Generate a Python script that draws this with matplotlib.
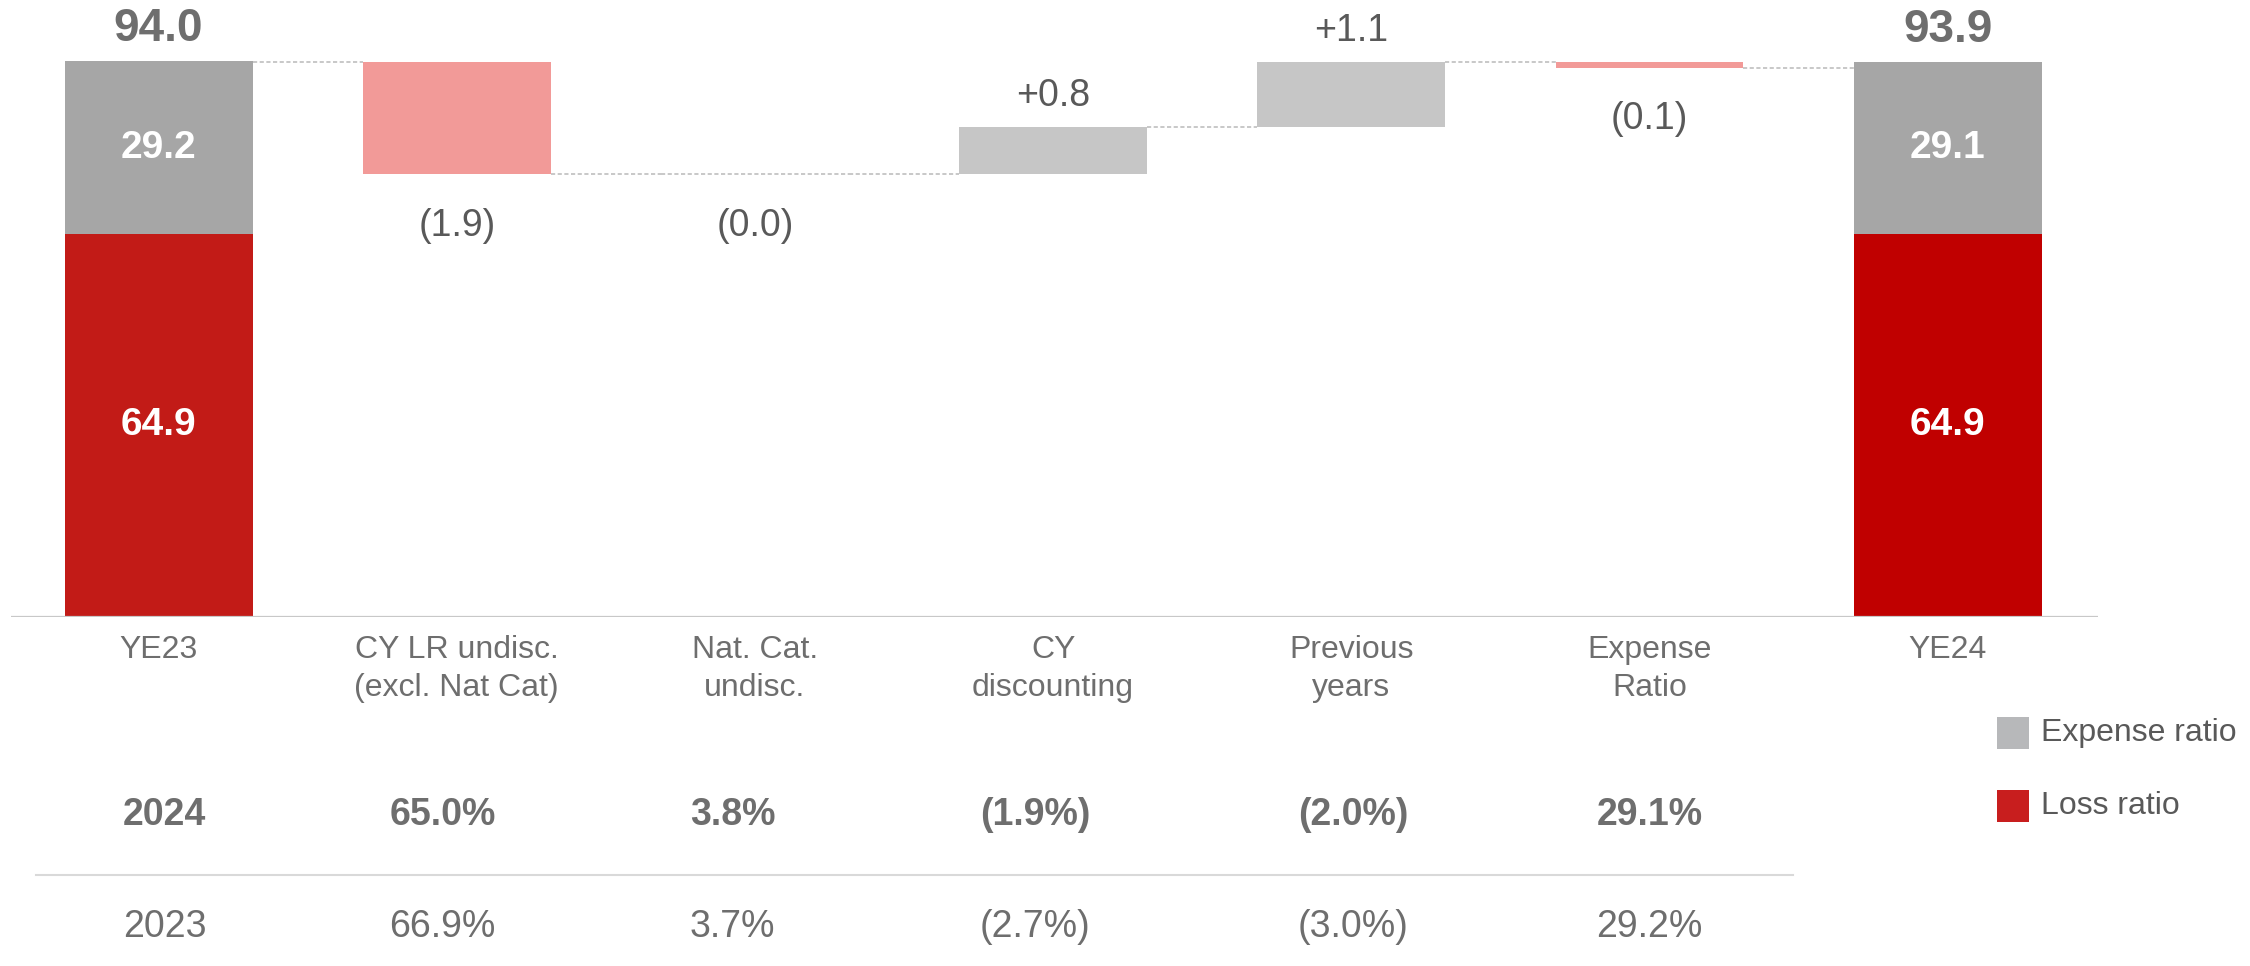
import matplotlib
matplotlib.use("Agg")
import matplotlib.pyplot as plt
from matplotlib import transforms
from matplotlib.patches import Rectangle

plt.rcParams['font.family'] = ['Liberation Sans', 'DejaVu Sans']
NARROW = ['Liberation Sans Narrow', 'Liberation Sans', 'DejaVu Sans']

# data
categories = ["YE23", "CY LR undisc.\n(excl. Nat Cat)", "Nat. Cat.\nundisc.", "CY\ndiscounting",
              "Previous\nyears", "Expense\nRatio", "YE24"]
start_loss, start_exp, start_total = 64.9, 29.2, 94.0
end_loss, end_exp, end_total = 64.9, 29.1, 93.9
deltas = [-1.9, 0.0, 0.8, 1.1, -0.1]
delta_labels = ["(1.9)", "(0.0)", "+0.8", "+1.1", "(0.1)"]
row_years = ["2024", "2023"]
row_2024 = ["65.0%", "3.8%", "(1.9%)", "(2.0%)", "29.1%"]
row_2023 = ["66.9%", "3.7%", "(2.7%)", "(3.0%)", "29.2%"]
legend_labels = ["Expense ratio", "Loss ratio"]

# the bridge steps are drawn on a stretched scale (as in the original slide)
BREAK = 10
W = 0.63
# small horizontal nudges of the table columns relative to the bars
col_shift = [0.02, -0.048, -0.075, -0.06, 0.007, 0.0]

red_23 = '#C21B17'
red_24 = '#C00000'
gray_tot = '#A6A6A6'
gray_up = '#C6C6C6'
pink = '#F29A98'
txt = '#595959'
txt_light = '#6E6E6E'
line_c = '#C8C8C8'

fig = plt.figure(figsize=(22.5, 9.66), dpi=100)
ax = fig.add_axes([0.0049, 0.3613, 0.9275, 0.6387])
ax.set_xlim(-0.495, 6.504)
ax.set_ylim(0, 104.5)
ax.axis('off')
ax.axhline(0, color=line_c, lw=1.6)

# start / end totals
ax.bar(0, start_loss, W, color=red_23)
ax.bar(0, start_exp, W, bottom=start_loss, color=gray_tot)
ax.bar(6, end_loss, W, color=red_24)
ax.bar(6, end_exp, W, bottom=end_loss, color=gray_tot)

for x, loss, exp, tot in [(0, start_loss, start_exp, start_total), (6, end_loss, end_exp, end_total)]:
    ax.text(x, loss / 2, f"{loss:.1f}", ha='center', va='center', color='white',
            fontsize=28, fontweight='bold')
    ax.text(x, loss + exp / 2, f"{exp:.1f}", ha='center', va='center', color='white',
            fontsize=28, fontweight='bold')
    ax.annotate(f"{tot:.1f}", (x, tot), xytext=(0, 15), textcoords='offset points',
                ha='center', va='baseline', color=txt_light, fontsize=33, fontweight='bold')

dash = (0, (2.5, 1.5))
level = start_total
for i, (d, lab) in enumerate(zip(deltas, delta_labels), start=1):
    new = level + BREAK * d
    ax.hlines(level, i - 1 + W / 2, i - W / 2, color='#BFBFBF', lw=1.2, linestyles=dash)
    if d == 0:
        ax.hlines(level, i - W / 2, i + W / 2, color='#BFBFBF', lw=1.2, linestyles=dash)
    else:
        ax.bar(i, new - level, W, bottom=level, color=pink if d < 0 else gray_up)
    if lab.startswith("("):
        ax.annotate(lab, (i, min(level, new)), xytext=(0, -37), textcoords='offset points',
                    ha='center', va='center', color=txt, fontsize=27)
    else:
        ax.annotate(lab, (i, max(level, new)), xytext=(0, 22), textcoords='offset points',
                    ha='center', va='center', color=txt, fontsize=27)
    level = new
ax.hlines(level, 5 + W / 2, 6 - W / 2, color='#BFBFBF', lw=1.2, linestyles=dash)

# category labels and the small table below
trans = transforms.blended_transform_factory(ax.transData, fig.transFigure)
for i, cat in enumerate(categories):
    for j, line in enumerate(cat.split("\n")):
        ax.text(i, 0.3188 - j * 0.0393, line, transform=trans, ha='center', va='baseline',
                color=txt_light, fontsize=23)

ax.text(0 + col_shift[0], 0.146, row_years[0], transform=trans, ha='center', va='baseline',
        color=txt_light, fontsize=27, fontweight='bold')
ax.text(0 + col_shift[0], 0.030, row_years[1], transform=trans, ha='center', va='baseline',
        color=txt_light, fontsize=27)
for i, (a, b) in enumerate(zip(row_2024, row_2023), start=1):
    ax.text(i + col_shift[i], 0.146, a, transform=trans, ha='center', va='baseline',
            color=txt_light, fontsize=27, fontweight='bold')
    ax.text(i + col_shift[i], 0.030, b, transform=trans, ha='center', va='baseline',
            color=txt_light, fontsize=27)
fig.add_artist(plt.Line2D([0.016, 0.797], [0.0942, 0.0942], color='#D9D9D9', lw=1.5))

# legend
for k, (lab, c) in enumerate(zip(legend_labels, ['#B7B8BA', '#C81E1E'])):
    yc = 0.2412 - k * 0.0756
    fig.add_artist(Rectangle((0.8876, yc - 0.0166), 0.0142, 0.0331, transform=fig.transFigure,
                             color=c, lw=0))
    fig.text(0.9071, yc, lab, ha='left', va='center', color=txt, fontsize=23)

fig.savefig("out.png", dpi=100)
